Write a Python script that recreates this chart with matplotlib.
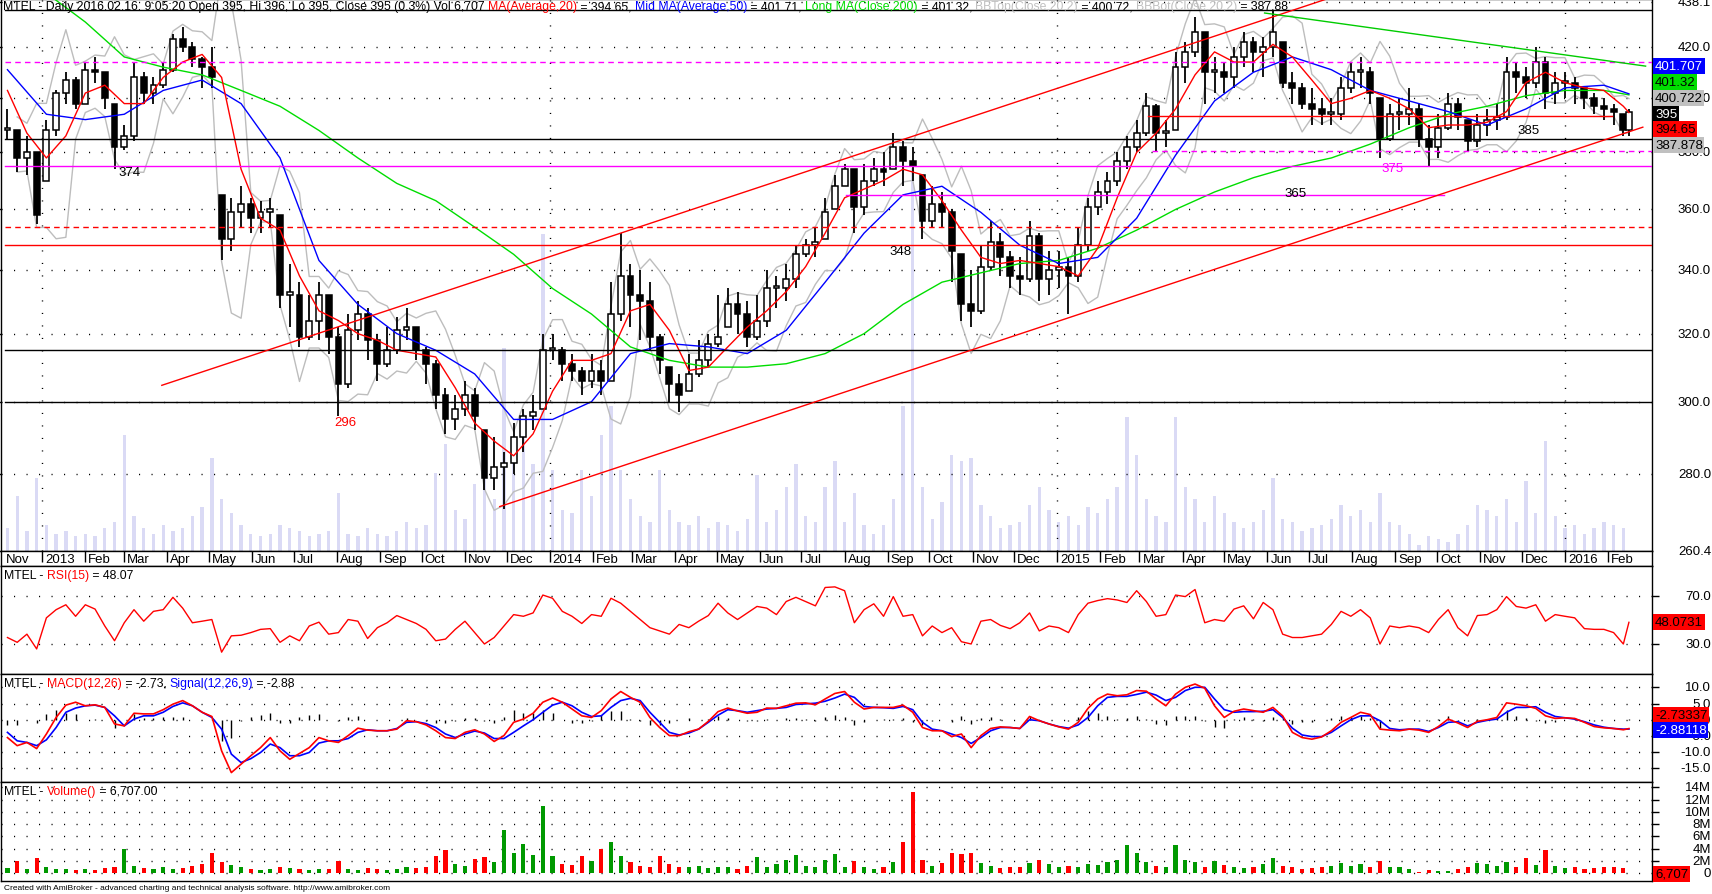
import numpy as np
import pandas as pd
import matplotlib
matplotlib.use("Agg")
import matplotlib.pyplot as plt
import matplotlib.dates as mdates
import matplotlib.transforms as mtransforms
from matplotlib.ticker import FixedLocator, NullLocator

plt.rcParams['font.family'] = ['Liberation Sans', 'DejaVu Sans']

# ---- data (weekly samples of the daily chart) ----
week_start = '2012-12-07'
last_day = '2016-02-16'

closes = [388, 378, 380, 358, 388, 402, 407, 398, 411, 410,
          400, 382, 386, 408, 402, 405, 411, 423, 420, 415,
          412, 408, 350, 359, 362, 357, 359, 360, 332, 332,
          319, 324, 332, 319, 305, 321, 326, 318, 311, 315,
          321, 322, 315, 311, 302, 295, 298, 302, 296, 279,
          282, 283, 290, 296, 297, 315, 315, 311, 309, 306,
          309, 306, 326, 338, 332, 330, 319, 312, 305, 302,
          308, 312, 317, 319, 329, 326, 319, 324, 334, 334,
          337, 345, 348, 349, 359, 368, 374, 361, 370, 374,
          373, 382, 377, 375, 356, 362, 359, 346, 329, 327,
          341, 349, 344, 338, 337, 351, 337, 340, 341, 338,
          348, 361, 366, 370, 377, 382, 387, 397, 387, 387,
          412, 418, 426, 410, 410, 408, 416, 422, 418, 420,
          426, 406, 404, 398, 396, 394, 394, 404, 410, 410,
          402, 385, 394, 394, 396, 385, 382, 389, 398, 393,
          384, 390, 392, 393, 410, 408, 406, 414, 402, 406,
          406, 404, 400, 397, 396, 395, 388, 395]
highs = [396, 388, 386, 380, 392, 403, 410, 408, 414, 416,
         410, 398, 390, 414, 410, 408, 414, 425, 428, 422,
         416, 420, 365, 364, 368, 364, 363, 364, 358, 342,
         336, 332, 336, 332, 322, 326, 330, 328, 320, 322,
         325, 328, 322, 316, 312, 304, 302, 306, 304, 292,
         290, 286, 294, 298, 302, 320, 320, 316, 314, 310,
         314, 312, 336, 352, 342, 340, 336, 320, 310, 308,
         314, 318, 320, 332, 334, 333, 330, 332, 340, 338,
         342, 348, 350, 354, 364, 372, 376, 374, 376, 378,
         380, 387, 384, 382, 372, 368, 366, 360, 345, 340,
         348, 356, 352, 346, 344, 356, 352, 346, 346, 344,
         354, 364, 370, 373, 380, 386, 392, 402, 398, 392,
         418, 422, 432, 426, 416, 414, 420, 426, 424, 424,
         435, 422, 410, 406, 404, 400, 400, 408, 414, 416,
         412, 400, 398, 400, 404, 398, 390, 394, 402, 400,
         392, 394, 396, 398, 416, 414, 412, 420, 416, 410,
         410, 408, 404, 402, 400, 398, 394, 396]
lows = [385, 373, 372, 355, 370, 386, 398, 396, 398, 406,
        396, 374, 381, 384, 398, 398, 404, 410, 418, 412,
        404, 404, 343, 346, 354, 352, 352, 354, 328, 322,
        316, 318, 318, 314, 296, 304, 318, 312, 306, 310,
        314, 318, 312, 305, 298, 291, 292, 296, 292, 276,
        276, 271, 280, 286, 292, 298, 312, 306, 306, 302,
        304, 302, 306, 324, 322, 318, 315, 308, 300, 297,
        303, 307, 310, 316, 322, 320, 316, 318, 322, 328,
        330, 334, 344, 344, 350, 360, 368, 352, 358, 368,
        368, 374, 368, 370, 350, 354, 354, 336, 324, 322,
        326, 340, 338, 334, 332, 336, 330, 332, 334, 326,
        336, 346, 358, 362, 368, 374, 380, 386, 380, 382,
        388, 406, 416, 398, 402, 402, 404, 412, 410, 408,
        416, 404, 398, 396, 390, 390, 390, 392, 402, 404,
        398, 378, 384, 388, 390, 382, 375, 378, 388, 388,
        380, 382, 386, 388, 392, 402, 400, 404, 396, 398,
        400, 398, 396, 394, 392, 390, 386, 386]

# millions of shares (largest session of each week)
volume = [0.8, 1.9, 0.7, 2.5, 0.9, 0.6, 0.7, 0.5, 0.6, 0.5,
          0.8, 1.0, 4.0, 1.2, 0.8, 0.6, 0.9, 0.7, 0.8, 1.2,
          1.5, 3.2, 1.8, 1.3, 0.9, 0.6, 0.5, 0.6, 0.9, 0.8,
          0.7, 0.5, 0.6, 0.7, 2.0, 0.6, 0.5, 0.8, 0.6, 0.5,
          0.7, 1.0, 0.8, 0.9, 2.7, 3.7, 1.4, 1.1, 2.3, 2.6,
          1.8, 7.0, 3.2, 4.7, 3.0, 10.9, 2.8, 1.4, 1.3, 2.8,
          1.9, 4.0, 5.0, 2.8, 1.8, 1.2, 1.0, 2.8, 1.4, 1.0,
          0.9, 1.2, 0.8, 1.0, 0.9, 0.7, 1.1, 2.6, 1.0, 1.4,
          2.2, 3.0, 1.2, 1.0, 2.2, 3.1, 1.0, 2.0, 0.9, 0.6,
          0.9, 1.8, 5.0, 13.2, 2.2, 1.1, 1.7, 3.3, 3.1, 3.2,
          1.6, 1.2, 0.8, 0.9, 1.0, 1.6, 2.2, 1.4, 1.0, 1.2,
          0.9, 1.5, 1.3, 1.8, 2.2, 4.6, 3.3, 1.8, 1.2, 1.0,
          4.6, 2.2, 1.8, 1.0, 1.9, 1.3, 1.0, 0.8, 1.0, 1.4,
          2.5, 1.1, 1.0, 0.7, 0.8, 0.9, 1.1, 1.6, 1.2, 1.4,
          1.0, 2.0, 1.0, 0.9, 0.6, 0.2, 0.5, 0.4, 0.3, 0.6,
          0.9, 1.6, 1.4, 1.2, 1.8, 1.0, 2.4, 1.3, 3.8, 1.2,
          0.8, 0.9, 0.6, 0.8, 1.0, 0.9, 0.8, 0.0067]

# moving averages (week index -> value)
ma20_wk = list(range(0, 167, 2)) + [167]
ma20 = [403, 387, 378, 386, 402, 405, 398, 398, 408, 414,
        417, 408, 374, 357, 353, 338, 327, 324, 320, 318,
        315, 314, 313, 304, 294, 289, 285, 291, 303, 312,
        312, 314, 327, 329, 321, 309, 310, 316, 322, 327,
        333, 341, 352, 364, 367, 370, 374, 372, 363, 353,
        344, 342, 343, 342, 341, 338, 347, 364, 380, 387,
        396, 409, 418, 414, 414, 421, 416, 407, 398, 400,
        403, 400, 396, 389, 390, 390, 391, 395, 406, 410,
        406, 404, 403, 397, 394.65]
ma_wk = list(range(0, 165, 4)) + [167]
ma50 = [411, 394, 392, 394, 403, 407, 398, 378, 343, 329,
        320, 315, 308, 295, 295, 300, 314, 317, 316, 314,
        321, 336, 352, 365, 368, 359, 348, 342, 344, 357,
        379, 399, 410, 416, 411, 403, 399, 395, 390, 396,
        404, 405, 401.71]
ma200 = [455, 442, 430, 416, 412, 409, 403, 397, 388, 378,
         369, 363, 354, 345, 334, 326, 316, 312, 310, 310,
         311, 314, 320, 329, 336, 339, 342, 343, 347, 353,
         360, 366, 371, 375, 378, 383, 389, 394, 397, 401,
         403, 403, 401.32]

rsi = [35.4, 31.4, 38.2, 25.9, 51.8, 58.6, 62.7, 53.1, 62.7, 59.1,
       45.0, 32.7, 47.7, 58.6, 49.0, 57.2, 58.6, 68.9, 59.9, 47.7,
       49.0, 50.4, 23.2, 36.8, 37.3, 39.5, 42.2, 42.8, 31.4, 36.8,
       32.7, 45.0, 48.2, 38.2, 39.5, 50.4, 49.0, 34.6, 43.6, 47.7,
       53.7, 50.4, 47.1, 42.2, 32.7, 34.1, 42.2, 49.0, 39.5, 30.0,
       35.4, 45.0, 54.5, 53.1, 55.9, 70.8, 68.1, 57.2, 53.1, 47.1,
       54.5, 53.1, 68.1, 64.0, 57.2, 50.4, 43.6, 40.9, 38.2, 46.3,
       43.6, 49.0, 53.7, 64.0, 55.9, 50.4, 55.9, 61.3, 59.9, 54.5,
       65.4, 68.9, 65.4, 61.8, 77.1, 77.6, 74.4, 47.7, 58.6, 63.5,
       53.1, 69.5, 53.1, 54.5, 36.8, 45.0, 39.5, 43.6, 31.9, 30.0,
       49.0, 50.4, 45.5, 42.8, 47.7, 55.9, 40.9, 45.0, 43.6, 39.5,
       54.5, 64.0, 66.2, 67.8, 66.7, 64.6, 74.4, 65.4, 53.1, 54.5,
       70.8, 69.5, 75.4, 47.7, 50.4, 49.0, 59.1, 61.8, 51.0, 64.6,
       58.6, 38.2, 35.4, 35.4, 36.8, 38.2, 46.3, 57.2, 53.1, 58.6,
       51.8, 30.0, 45.0, 43.6, 45.0, 43.6, 39.5, 50.4, 58.6, 43.6,
       36.8, 53.7, 54.5, 58.6, 69.5, 61.3, 59.9, 62.7, 49.0, 54.5,
       53.1, 51.8, 42.8, 42.2, 42.2, 39.5, 30.0, 48.07]

macd = [-5.5, -8.0, -7.0, -8.9, -4.4, 0.7, 4.5, 5.4, 4.3, 4.6,
        3.8, -1.3, -1.9, 2.0, 1.8, 1.8, 3.1, 4.8, 5.9, 4.3,
        2.3, 1.0, -9.6, -16.3, -13.7, -11.1, -8.6, -5.5, -9.6, -12.2,
        -10.4, -8.6, -5.5, -6.5, -7.0, -4.9, -2.6, -3.2, -3.4, -3.4,
        -2.9, -0.3, -0.6, -1.6, -3.4, -5.5, -5.8, -3.9, -3.1, -4.4,
        -6.7, -4.9, -0.8, 0.2, 2.0, 5.4, 6.7, 5.4, 3.3, 1.2,
        0.7, 2.8, 6.4, 8.7, 6.9, 5.4, 0.7, -2.4, -4.9, -4.9,
        -3.7, -2.9, -0.5, 2.5, 3.6, 2.7, 2.0, 2.3, 3.6, 3.5,
        4.3, 5.1, 5.2, 4.6, 6.4, 8.1, 8.7, 5.4, 3.3, 3.8,
        3.8, 3.8, 4.5, 2.3, -2.4, -3.4, -3.4, -5.2, -4.4, -8.6,
        -4.9, -2.7, -2.2, -2.4, -2.7, 1.0, -0.3, -1.3, -2.2, -2.9,
        -0.8, 3.5, 6.4, 7.9, 7.4, 7.7, 9.0, 8.8, 6.4, 4.3,
        7.9, 10.0, 11.0, 9.7, 4.3, 0.7, 2.6, 3.3, 2.8, 2.3,
        3.8, 1.2, -3.9, -5.5, -6.0, -5.3, -3.4, -0.8, 0.7, 2.3,
        1.6, -2.9, -3.2, -3.4, -2.9, -3.2, -3.9, -2.1, 0.2, -1.0,
        -2.4, -0.5, 0.0, 0.7, 5.2, 4.8, 4.3, 3.5, 1.2, 0.4,
        0.6, 0.4, -0.8, -2.1, -2.5, -2.7, -3.1, -2.73]
signal = [-3.9, -6.5, -7.0, -8.0, -6.2, -2.4, 2.3, 3.6, 4.3, 4.5,
          3.8, 1.2, -1.9, 0.2, 1.2, 1.2, 2.3, 4.1, 5.2, 4.3,
          2.3, 0.7, -2.9, -10.6, -13.2, -12.0, -10.1, -7.5, -8.6, -11.1,
          -11.1, -10.1, -7.2, -6.5, -6.5, -5.8, -3.9, -3.1, -3.4, -3.4,
          -2.7, -0.8, -0.6, -1.2, -2.4, -4.4, -5.5, -4.4, -3.5, -4.1,
          -5.8, -5.8, -3.9, -1.9, 0.0, 2.3, 4.5, 5.4, 4.3, 2.3,
          1.0, 1.2, 3.8, 5.9, 6.6, 5.9, 2.3, -0.8, -3.9, -4.7,
          -4.1, -2.9, -0.8, 1.4, 3.1, 2.8, 2.3, 2.8, 3.3, 3.5,
          3.8, 4.7, 4.9, 5.1, 5.7, 6.7, 7.9, 6.9, 4.1, 3.8,
          3.7, 3.5, 4.1, 3.1, -0.8, -2.9, -3.4, -4.4, -5.5, -7.3,
          -5.5, -3.4, -2.4, -2.4, -2.7, 0.0, -0.3, -1.3, -2.1, -2.6,
          -1.6, 0.7, 4.3, 6.9, 7.2, 7.2, 7.8, 8.5, 7.6, 5.9,
          6.9, 9.0, 10.0, 10.0, 6.4, 3.1, 2.3, 2.5, 2.5, 2.6,
          3.1, 0.7, -2.6, -4.7, -5.2, -5.2, -3.9, -1.9, 0.0, 1.2,
          1.2, -0.3, -2.7, -3.1, -2.9, -2.9, -3.6, -2.4, -0.8, -0.6,
          -1.9, -0.8, -0.2, 0.2, 2.3, 3.8, 3.8, 4.0, 2.3, 1.0,
          0.6, 0.2, -0.6, -1.6, -2.3, -2.7, -2.9, -2.88]

# drawn studies: (start date, start price, end date, end price, colour)
trend_lines = [
    ('2013-03-28', 304.7, '2015-07-23', 441.3, 'red'),
    ('2013-11-26', 271.6, '2016-02-26', 389.2, 'red'),
    ('2015-05-30', 433.7, '2016-02-28', 412.4, '#00CC00'),
]
# horizontal levels: (price, colour, style, from, to)  None = whole chart
levels = [
    (435, 'black', '-', None, None),
    (414, '#FF00FF', '--', None, None),
    (393.5, 'red', '-', '2015-03-07', '2016-02-04'),
    (385, 'black', '-', None, None),
    (380.4, '#FF00FF', '--', '2015-03-10', None),
    (375, '#FF00FF', '-', None, None),
    (365, '#FF00FF', '-', '2014-08-02', '2015-10-06'),
    (354, 'red', '--', None, None),
    (348, 'red', '-', None, None),
    (315, 'black', '-', None, None),
    (300, 'black', '-', None, None),
]
level_labels = [
    ('374', '2013-03-05', 372.9, 'black'),
    ('296', '2013-08-07', 294.2, 'red'),
    ('348', '2014-09-10', 346.0, 'black'),
    ('365', '2015-06-21', 365.8, 'black'),
    ('375', '2015-08-30', 374.4, '#FF00FF'),
    ('385', '2015-12-06', 388.3, 'black'),
]

# ---- derived arrays ----
dates = pd.DatetimeIndex(list(pd.date_range(week_start, periods=167, freq='7D')) + [pd.Timestamp(last_day)])
xd = mdates.date2num(dates.to_pydatetime())
closes = np.array(closes, float)
highs = np.array(highs, float)
lows = np.array(lows, float)
volume = np.array(volume, float)
opens = np.clip(np.r_[closes[0], closes[:-1]], lows, highs)
up = closes >= opens
vol_up = closes >= np.r_[closes[0], closes[:-1]]

s = pd.Series(closes)
bb_mid = s.rolling(4, min_periods=2).mean()
bb_sd = s.rolling(4, min_periods=2).std(ddof=0)
bb_top = bb_mid + 2 * bb_sd
bb_bot = bb_mid - 2 * bb_sd


def dnum(d):
    return mdates.date2num(pd.Timestamp(d).to_pydatetime())


X0 = dnum('2012-12-02')
X1 = X0 + 1187.6

# ---- figure layout (pixel based, like the AmiBroker window) ----
W, H = 1712, 895
XR = 1652
fig = plt.figure(figsize=(W / 100, H / 100), dpi=100)


def rect(y0, y1):
    return [0.5 / W, 1 - y1 / H, (XR - 0.5) / W, (y1 - y0) / H]


ax_p = fig.add_axes(rect(0, 552))
ax_d = fig.add_axes(rect(552, 567))
ax_r = fig.add_axes(rect(567, 675))
ax_m = fig.add_axes(rect(675, 783))
ax_v = fig.add_axes(rect(783, 882))

DOT = (0, (0.8, 8.2))
for ax in (ax_p, ax_d, ax_r, ax_m, ax_v):
    ax.set_xlim(X0, X1)
    ax.set_xticks([])
    for sp in ax.spines.values():
        sp.set_color('black')
        sp.set_linewidth(1)
    ax.tick_params(axis='y', left=False, right=True, labelleft=False, labelright=False,
                   length=5, width=1, direction='out', color='black')


def right_labels(ax, vals, texts):
    tr = mtransforms.blended_transform_factory(fig.transFigure, ax.transData)
    for v, t in zip(vals, texts):
        ax.text(1711 / W, v, t, transform=tr, ha='right', va='center', fontsize=9.5,
                clip_on=False)


def value_box(y_px, txt, bg, fg='black'):
    fig.text(1655 / W, 1 - y_px / H, txt, ha='left', va='center', fontsize=9.5, color=fg,
             bbox=dict(boxstyle='square,pad=0.12', fc=bg, ec='none'), zorder=10)


renderer = fig.canvas.get_renderer()


def color_text(x_px, y_px, parts, size=8.2):
    x = x_px
    for txt, col in parts:
        t = fig.text(x / W, 1 - y_px / H, txt, color=col, fontsize=size, ha='left',
                     va='center', zorder=10)
        x += t.get_window_extent(renderer=renderer).width


# ---- price pane ----
ax_pv = ax_p.twinx()
ax_pv.bar(xd, volume, width=2.4, color='#DADAF5', linewidth=0)
ax_pv.set_ylim(0, 19)
ax_pv.axis('off')
ax_pv.set_zorder(ax_p.get_zorder() - 1)
ax_p.patch.set_visible(False)

ax_p.set_yscale('log')
ax_p.set_ylim(260.4, 439.5)
pticks = [260.4, 280, 300, 320, 340, 360, 380, 400, 420, 438.1]
ax_p.yaxis.set_major_locator(FixedLocator(pticks))
ax_p.yaxis.set_minor_locator(NullLocator())
right_labels(ax_p, pticks, ['%.1f' % v for v in pticks])
for v in pticks[1:]:
    ax_p.axhline(v, color='black', lw=1, ls=DOT, zorder=1)
for yr in ('2013-01-01', '2014-01-01', '2015-01-01', '2016-01-01'):
    ax_p.axvline(dnum(yr), color='black', lw=1, ls=DOT, zorder=1)

ax_p.plot(xd, bb_top, color='#BDBDBD', lw=1, zorder=2)
ax_p.plot(xd, bb_bot, color='#BDBDBD', lw=1, zorder=2)

ax_p.vlines(xd, lows, highs, color='black', lw=1.3, zorder=3)
body_lo = np.minimum(opens, closes)
body_h = np.maximum(np.abs(closes - opens), 0.8)
ax_p.bar(xd, body_h, bottom=body_lo, width=4.2, color=np.where(up, 'white', 'black'),
         edgecolor='black', linewidth=1.1, zorder=3.5)

ax_p.plot(xd[ma_wk], ma200, color='#00DD00', lw=1, zorder=4)
ax_p.plot(xd[ma_wk], ma50, color='blue', lw=1, zorder=4)
ax_p.plot(xd[ma20_wk], ma20, color='red', lw=1, zorder=4)

for v, col, ls, a, b in levels:
    xa = xd[0] - 2 if a is None else dnum(a)
    xb = X1 if b is None else dnum(b)
    ax_p.plot([xa, xb], [v, v], color=col, lw=1, ls=(0, (4, 3)) if ls == '--' else '-', zorder=4)
for a, pa, b, pb, col in trend_lines:
    ax_p.plot([dnum(a), dnum(b)], [pa, pb], color=col, lw=1, zorder=4)
for txt, d, v, col in level_labels:
    ax_p.text(dnum(d), v, txt, color=col, fontsize=9.5, ha='center', va='center', zorder=5)

color_text(3, 7, [
    ("MTEL - Daily 2016.02.16. 9:05:20 Open 395, Hi 396, Lo 395, Close 395 (0.3%) Vol 6,707 ", 'black'),
    ("MA(Average,20)", 'red'), (" = 394.65, ", 'black'),
    ("Mid MA(Average,50)", 'blue'), (" = 401.71, ", 'black'),
    ("Long MA(Close,200)", '#00DD00'), (" = 401.32, ", 'black'),
    ("BBTop(Close,20,2)", '#C0C0C0'), (" = 400.72, ", 'black'),
    ("BBBot(Close,20,2)", '#C0C0C0'), (" = 387.88", 'black'),
], size=8.8)

value_box(67, '401.707', '#0000FF', 'white')
value_box(83, '401.32', '#00DD00')
value_box(99, '400.722', '#C0C0C0')
value_box(115, '395', 'black', 'white')
value_box(130, '394.65', 'red')
value_box(146, '387.878', '#C0C0C0')

# ---- date strip ----
ax_d.set_ylim(0, 1)
ax_d.set_yticks([])
ax_d.tick_params(axis='y', right=False)
months = pd.date_range('2013-01-01', '2016-02-01', freq='MS')
mx = mdates.date2num(months.to_pydatetime())
ax_d.vlines(mx, 0.25, 1, color='black', lw=1)
lab_tr = mtransforms.offset_copy(ax_d.transData, fig=fig, x=3, y=0, units='dots')
for m, x in zip(months, mx):
    lab = str(m.year) if m.month == 1 else m.strftime('%b')
    ax_d.text(x, 0.45, lab, transform=lab_tr, fontsize=9.5, ha='left', va='center')
ax_d.text(X0 + 4, 0.45, 'Nov', fontsize=9.5, ha='left', va='center')

# ---- RSI pane ----
ax_r.set_ylim(5, 95)
ax_r.yaxis.set_major_locator(FixedLocator([30, 70]))
right_labels(ax_r, [30, 70], ['30.0', '70.0'])
for v in (30, 70):
    ax_r.axhline(v, color='black', lw=1, ls=DOT, zorder=1)
ax_r.plot(xd, rsi, color='red', lw=1)
color_text(4, 576, [("MTEL - ", 'black'), ("RSI(15)", 'red'), (" = 48.07", 'black')], size=8.8)
value_box(623, '48.0731', 'red')

# ---- MACD pane ----
ax_m.set_ylim(-19.2, 14.1)
mt = [-15, -10, -5, 0, 5, 10]
ax_m.yaxis.set_major_locator(FixedLocator(mt))
right_labels(ax_m, mt, ['%.1f' % v for v in mt])
for v in mt:
    ax_m.axhline(v, color='black', lw=1, ls=DOT, zorder=1)
macd = np.array(macd)
signal = np.array(signal)
ax_m.vlines(xd, 0, macd - signal, color='black', lw=1, zorder=2)
ax_m.plot(xd, signal, color='blue', lw=1.2, zorder=3)
ax_m.plot(xd, macd, color='red', lw=1.2, zorder=3)
color_text(4, 684, [("MTEL - ", 'black'), ("MACD(12,26)", 'red'), (" = -2.73, ", 'black'),
                    ("Signal(12,26,9)", 'blue'), (" = -2.88", 'black')], size=8.8)
value_box(716, '-2.73337', 'red')
value_box(731, '-2.88118', 'blue', 'white')

# ---- volume pane ----
ax_v.set_ylim(-1.31, 14.87)
vt = list(range(0, 15, 2))
ax_v.yaxis.set_major_locator(FixedLocator(vt))
right_labels(ax_v, vt, ['0'] + ['%dM' % v for v in vt[1:]])
for v in vt:
    ax_v.axhline(v, color='black', lw=1, ls=DOT, zorder=1)
ax_v.bar(xd, volume, width=3.0, color=np.where(vol_up, '#009900', 'red'), linewidth=0, zorder=2)
color_text(4, 792, [("MTEL - ", 'black'), ("Volume()", 'red'), (" = 6,707.00", 'black')], size=8.8)
value_box(875, '6,707', 'red')

fig.text(4 / W, 1 - 889 / H,
         "Created with AmiBroker - advanced charting and technical analysis software. http://www.amibroker.com",
         fontsize=6, ha='left', va='center')

fig.savefig('out.png', dpi=100, facecolor='white')
